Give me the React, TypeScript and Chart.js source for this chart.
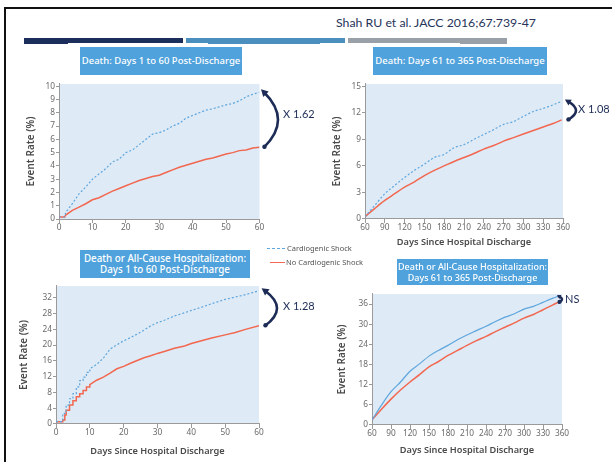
import React, { useEffect, useRef } from "react";
import { Chart, registerables } from "chart.js";

Chart.register(...registerables);

// ---------- Data ----------
// Panel A: Death, days 1 to 60 post-discharge
const daysA = [0, 1.7, 2, 4, 6, 8, 10, 12, 14, 16, 18, 20, 22, 24, 26, 28, 30, 32, 34, 36, 38, 40, 42, 44, 46, 48, 50, 52, 54, 56, 58, 60];
const shockA = [0.15, 0.15, 0.5, 1.15, 1.9, 2.4, 3.0, 3.4, 3.8, 4.3, 4.5, 5.0, 5.2, 5.6, 6.0, 6.4, 6.5, 6.7, 7.0, 7.2, 7.6, 7.8, 8.0, 8.2, 8.3, 8.45, 8.6, 8.7, 8.9, 9.2, 9.4, 9.55];
const noShockA = [0.15, 0.15, 0.3, 0.65, 0.9, 1.15, 1.45, 1.6, 1.85, 2.1, 2.3, 2.5, 2.7, 2.9, 3.05, 3.2, 3.3, 3.5, 3.7, 3.9, 4.05, 4.2, 4.35, 4.5, 4.6, 4.75, 4.9, 5.0, 5.15, 5.2, 5.35, 5.4];

// Panel B: Death, days 61 to 365 post-discharge
const daysB = [60, 75, 90, 105, 120, 135, 150, 165, 180, 195, 210, 225, 240, 255, 270, 285, 300, 315, 330, 345, 358];
const shockB = [0.26, 1.56, 2.86, 3.8, 4.7, 5.5, 6.2, 6.95, 7.3, 8.07, 8.4, 9.0, 9.55, 10.1, 10.7, 11.0, 11.6, 12.15, 12.5, 12.9, 13.3];
const noShockB = [0.26, 1.2, 2.1, 2.86, 3.6, 4.2, 4.9, 5.5, 6.0, 6.5, 6.95, 7.4, 7.9, 8.3, 8.8, 9.2, 9.6, 10.0, 10.4, 10.8, 11.2];

// Panel C: Death or all-cause hospitalization, days 1 to 60 (early daily steps kept as stairs)
const shockDaysC = [0, 2, 2, 3, 3, 4, 4, 5, 5, 6, 6, 7, 7, 8, 8, 9, 9, 10, 10, 12, 14, 16, 18, 20, 22, 24, 26, 28, 30, 32, 35, 38, 40, 43, 46, 50, 53, 56, 60];
const shockC = [0.6, 0.6, 2.7, 2.7, 4.8, 4.8, 6.4, 6.4, 7.7, 7.7, 9.4, 9.4, 11.0, 11.0, 11.9, 11.9, 13.1, 13.1, 14.0, 15.1, 16.7, 19.0, 20.1, 21.1, 21.9, 22.8, 23.8, 24.9, 25.7, 26.3, 27.4, 28.2, 28.8, 29.6, 30.5, 31.6, 32.2, 32.8, 33.8];
const noShockDaysC = [0, 2, 2, 2.6, 2.6, 3, 3, 4, 4, 5, 5, 6, 6, 7, 7, 8, 8, 9, 9, 10, 10, 12, 14, 16, 18, 20, 22, 24, 26, 28, 30, 32, 35, 38, 40, 43, 46, 50, 53, 56, 60];
const noShockC = [0.6, 0.6, 1.0, 1.0, 2.3, 2.3, 3.5, 3.5, 4.8, 4.8, 5.9, 5.9, 6.9, 6.9, 7.7, 7.7, 8.5, 8.5, 9.4, 9.4, 10.0, 11.1, 11.9, 12.9, 14.0, 14.6, 15.4, 16.1, 16.8, 17.3, 17.9, 18.4, 19.2, 19.8, 20.4, 21.1, 21.8, 22.6, 23.2, 24.0, 24.9];

// Panel D: Death or all-cause hospitalization, days 61 to 365
const daysD = [60, 75, 90, 105, 120, 135, 150, 165, 180, 195, 210, 225, 240, 255, 270, 285, 300, 315, 330, 345, 354];
const shockD = [1.5, 5.9, 9.9, 12.8, 16.0, 18.2, 20.5, 22.2, 23.7, 25.4, 26.8, 28.1, 29.4, 30.8, 32.1, 33.1, 34.5, 35.3, 36.5, 37.7, 38.3];
const noShockD = [1.5, 4.7, 7.7, 10.4, 12.8, 15.0, 17.3, 18.9, 20.7, 22.2, 23.7, 25.1, 26.4, 27.8, 29.1, 30.4, 31.8, 32.9, 34.3, 35.7, 36.5];

const seriesNames = ["Cardiogenic Shock", "No Cardiogenic Shock"];
const panelTitles = [
  ["Death: Days 1 to 60 Post-Discharge"],
  ["Death: Days 61 to 365 Post-Discharge"],
  ["Death or All-Cause Hospitalization:", "Days 1 to 60 Post-Discharge"],
  ["Death or All-Cause Hospitalization:", "Days 61 to 365 Post-Discharge"],
];
const ratioLabels = ["X 1.62", "X 1.08", "X 1.28", "NS"];
const yAxisTitle = "Event Rate (%)";
const xAxisTitle = "Days Since Hospital Discharge";
const citation = "Shah RU et al. JACC 2016;67:739-47";

// ---------- Styles ----------
const BLUE = "#5ea6dd";
const RED = "#f2674f";
const NAVY = "#1d2c56";
const PLOT_BG = "#deeaf6";
const AXIS = "#9a9a9a";
const BOX_BG = "#4fa2db";
const FONT = "'Noto Sans', 'DejaVu Sans', sans-serif";

const plotBg = {
  id: "plotBg",
  beforeDraw(chart: any) {
    const { ctx, chartArea: a } = chart;
    ctx.save();
    ctx.fillStyle = PLOT_BG;
    ctx.fillRect(a.left, a.top, a.right - a.left, a.bottom - a.top);
    ctx.restore();
  },
};

const ratioArrow = {
  id: "ratioArrow",
  afterDraw(chart: any, _args: any, opts: any) {
    if (!opts || !opts.label) return;
    const { ctx, chartArea: a, scales } = chart;
    const d0 = chart.data.datasets[0].data;
    const d1 = chart.data.datasets[1].data;
    const top = scales.y.getPixelForValue(d0[d0.length - 1].y);
    const bot = scales.y.getPixelForValue(d1[d1.length - 1].y);
    const x0 = a.right + opts.gap;
    const cx = x0 + 2 * opts.bulge;
    const cy = (top + bot) / 2;
    ctx.save();
    ctx.strokeStyle = NAVY;
    ctx.fillStyle = NAVY;
    ctx.lineWidth = opts.width;
    ctx.lineCap = "round";
    ctx.beginPath();
    ctx.moveTo(x0, top);
    ctx.quadraticCurveTo(cx, cy, x0, bot);
    ctx.stroke();
    // arrow head at top
    let ux = x0 - cx;
    let uy = top - cy;
    const len = Math.hypot(ux, uy) || 1;
    ux /= len;
    uy /= len;
    const h = opts.head;
    const tipX = x0 + ux * h * 0.6;
    const tipY = top + uy * h * 0.6;
    const bx = x0 - ux * h * 0.4;
    const by = top - uy * h * 0.4;
    const nx = -uy;
    const ny = ux;
    ctx.beginPath();
    ctx.moveTo(tipX, tipY);
    ctx.lineTo(bx + nx * h * 0.55, by + ny * h * 0.55);
    ctx.lineTo(bx - nx * h * 0.55, by - ny * h * 0.55);
    ctx.closePath();
    ctx.fill();
    // thick tail at bottom
    ctx.beginPath();
    ctx.arc(x0 + 0.5, bot - 0.5, opts.width * 0.85, 0, Math.PI * 2);
    ctx.fill();
    ctx.font = "11px Lato, 'Noto Sans', sans-serif";
    ctx.textBaseline = "middle";
    ctx.textAlign = "left";
    ctx.fillText(opts.label, x0 + opts.bulge + opts.textGap, cy + (opts.textDy || 0));
    ctx.restore();
  },
};

type Panel = {
  shockDays: number[];
  shock: number[];
  noShockDays: number[];
  noShock: number[];
  xMin: number;
  xMax: number;
  xStep: number;
  yMax: number;
  yStep: number;
  xTitle: boolean;
  yw: number;
  xh: number;
  pad: { left: number; top: number; right: number; bottom: number };
  dash: number[];
  smooth: boolean;
  arrow: any;
  box: { left: number; top: number; width: number; height: number };
};

const panels: Panel[] = [
  {
    shockDays: daysA, shock: shockA, noShockDays: daysA, noShock: noShockA,
    xMin: 0, xMax: 60, xStep: 10, yMax: 10.17, yStep: 1, xTitle: false,
    yw: 37, xh: 20, pad: { left: 2, top: 4, right: 60.5, bottom: 0 },
    dash: [2, 2], smooth: false,
    arrow: { label: ratioLabels[0], gap: 4.5, bulge: 14, textGap: 5, width: 2.6, head: 7, textDy: -5 },
    box: { left: 20, top: 78, width: 300, height: 161 },
  },
  {
    shockDays: daysB, shock: shockB, noShockDays: daysB, noShock: noShockB,
    xMin: 60, xMax: 360, xStep: 30, yMax: 15.26, yStep: 3, xTitle: true,
    yw: 37, xh: 33, pad: { left: 2, top: 4, right: 49, bottom: 0 },
    dash: [2, 2], smooth: true,
    arrow: { label: ratioLabels[1], gap: 5, bulge: 8, textGap: 2, width: 2.6, head: 6, textDy: -1 },
    box: { left: 326, top: 78, width: 286, height: 174 },
  },
  {
    shockDays: shockDaysC, shock: shockC, noShockDays: noShockDaysC, noShock: noShockC,
    xMin: 0, xMax: 60, xStep: 10, yMax: 35, yStep: 4, xTitle: true,
    yw: 41, xh: 37, pad: { left: 1, top: 5, right: 61, bottom: 0 },
    dash: [2, 2], smooth: false,
    arrow: { label: ratioLabels[2], gap: 6, bulge: 12, textGap: 6, width: 2.6, head: 7, textDy: -2 },
    box: { left: 14, top: 280, width: 306, height: 181 },
  },
  {
    shockDays: daysD, shock: shockD, noShockDays: daysD, noShock: noShockD,
    xMin: 60, xMax: 360, xStep: 30, yMax: 39, yStep: 6, xTitle: true,
    yw: 39, xh: 35, pad: { left: 3, top: 5, right: 38, bottom: 0 },
    dash: [], smooth: true,
    arrow: { label: ratioLabels[3], gap: -3, bulge: 3, textGap: 3, width: 2.4, head: 4, textDy: 0 },
    box: { left: 330, top: 288, width: 270, height: 172 },
  },
];

function buildConfig(p: Panel): any {
  const toPts = (days: number[], vals: number[]) => days.map((d, i) => ({ x: d, y: vals[i] }));
  const tickFont = { family: FONT, size: 8.3 };
  return {
    type: "line",
    data: {
      datasets: [
        {
          label: seriesNames[0],
          data: toPts(p.shockDays, p.shock),
          borderColor: BLUE,
          borderWidth: 1.2,
          borderDash: p.dash,
          pointRadius: 0,
          fill: false,
          cubicInterpolationMode: p.smooth ? "monotone" : "default",
        },
        {
          label: seriesNames[1],
          data: toPts(p.noShockDays, p.noShock),
          borderColor: RED,
          borderWidth: 1.5,
          pointRadius: 0,
          fill: false,
          cubicInterpolationMode: p.smooth ? "monotone" : "default",
        },
      ],
    },
    options: {
      responsive: false,
      maintainAspectRatio: false,
      animation: false,
      devicePixelRatio: 1,
      layout: { padding: p.pad },
      plugins: {
        legend: { display: false },
        tooltip: { enabled: false },
        ratioArrow: p.arrow,
      },
      scales: {
        x: {
          type: "linear",
          min: p.xMin,
          max: p.xMax,
          afterFit: (s: any) => { s.height = p.xh; },
          grid: { display: true, drawOnChartArea: false, drawTicks: true, tickLength: 4, color: AXIS },
          border: { display: true, color: AXIS, width: 1 },
          ticks: { stepSize: p.xStep, autoSkip: false, maxRotation: 0, padding: 0, color: "#6a6a6a", font: tickFont },
          title: { display: p.xTitle, text: xAxisTitle, color: "#4a4a4a", font: { family: FONT, size: 9.2, weight: "600" }, padding: { top: 4, bottom: 4 } },
        },
        y: {
          type: "linear",
          min: 0,
          max: p.yMax,
          afterFit: (s: any) => { s.width = p.yw; },
          grid: { display: true, drawOnChartArea: false, drawTicks: true, tickLength: 3, color: AXIS },
          border: { display: true, color: AXIS, width: 1 },
          ticks: { stepSize: p.yStep, includeBounds: false, autoSkip: false, padding: 1, color: "#6a6a6a", font: tickFont },
          title: { display: true, text: yAxisTitle, color: "#4a4a4a", font: { family: FONT, size: 10, weight: "600" }, padding: { top: 3, bottom: 4 } },
        },
      },
    },
    plugins: [plotBg, ratioArrow],
  };
}

function PanelChart({ p }: { p: Panel }) {
  const ref = useRef<HTMLCanvasElement | null>(null);
  useEffect(() => {
    if (!ref.current) return;
    const chart = new Chart(ref.current, buildConfig(p));
    return () => chart.destroy();
  }, [p]);
  return (
    <canvas
      ref={ref}
      width={p.box.width}
      height={p.box.height}
      style={{ position: "absolute", left: p.box.left, top: p.box.top, width: p.box.width, height: p.box.height }}
    />
  );
}

function TitleBox({ lines, left, top, width, height, size }: { lines: string[]; left: number; top: number; width: number; height: number; size: number }) {
  return (
    <div
      style={{
        position: "absolute",
        left,
        top,
        width,
        height,
        background: BOX_BG,
        color: "#ffffff",
        fontFamily: FONT,
        fontSize: size,
        fontWeight: 500,
        lineHeight: lines.length > 1 ? "11.5px" : `${height}px`,
        textAlign: "center",
        display: "flex",
        flexDirection: "column",
        justifyContent: "center",
        whiteSpace: "nowrap",
      }}
    >
      {lines.map((l, i) => (
        <div key={i}>{l}</div>
      ))}
    </div>
  );
}

export default function App() {
  return (
    <div style={{ position: "fixed", left: 0, top: 0, width: 612, height: 462, background: "#ffffff", overflow: "hidden" }}>
      {/* frame */}
      <div style={{ position: "absolute", left: 4, top: 7, width: 608, height: 2, background: "#111" }} />
      <div style={{ position: "absolute", left: 4, top: 7, width: 2, height: 455, background: "#111" }} />
      {/* citation */}
      <div style={{ position: "absolute", left: 336, top: 15, fontFamily: "Lato, 'Noto Sans', sans-serif", fontSize: 12.3, color: "#263459", whiteSpace: "nowrap" }}>
        {citation}
      </div>
      {/* colour bars */}
      <div style={{ position: "absolute", left: 24, top: 38, width: 159, height: 6, background: "#1c2f5c" }} />
      <div style={{ position: "absolute", left: 186, top: 38, width: 159, height: 6, background: "#4a8fbd" }} />
      <div style={{ position: "absolute", left: 348, top: 38, width: 159, height: 6, background: "#9aa0a8" }} />
      {/* white gaps behind title boxes */}
      <div style={{ position: "absolute", left: 68, top: 43, width: 140, height: 2, background: "#fff" }} />
      <div style={{ position: "absolute", left: 320, top: 43, width: 140, height: 2, background: "#fff" }} />

      {panels.map((p, i) => (
        <PanelChart key={i} p={p} />
      ))}

      <TitleBox lines={panelTitles[0]} left={80} top={47} width={162} height={28} size={9.5} />
      <TitleBox lines={panelTitles[1]} left={373} top={47} width={174} height={28} size={9.5} />
      <TitleBox lines={panelTitles[2]} left={80} top={250} width={170} height={28} size={9.8} />
      <TitleBox lines={panelTitles[3]} left={397} top={259} width={151} height={26} size={9} />

      {/* legend */}
      <div style={{ position: "absolute", left: 267, top: 248, width: 18, height: 0, borderTop: `1px dashed ${BLUE}` }} />
      <div style={{ position: "absolute", left: 287, top: 243, fontFamily: FONT, fontSize: 7.5, color: "#555", whiteSpace: "nowrap", lineHeight: "11px" }}>
        {seriesNames[0]}
      </div>
      <div style={{ position: "absolute", left: 270, top: 262, width: 15, height: 0, borderTop: `1.3px solid ${RED}` }} />
      <div style={{ position: "absolute", left: 286, top: 257, fontFamily: FONT, fontSize: 7.5, color: "#555", whiteSpace: "nowrap", lineHeight: "11px" }}>
        {seriesNames[1]}
      </div>
    </div>
  );
}
